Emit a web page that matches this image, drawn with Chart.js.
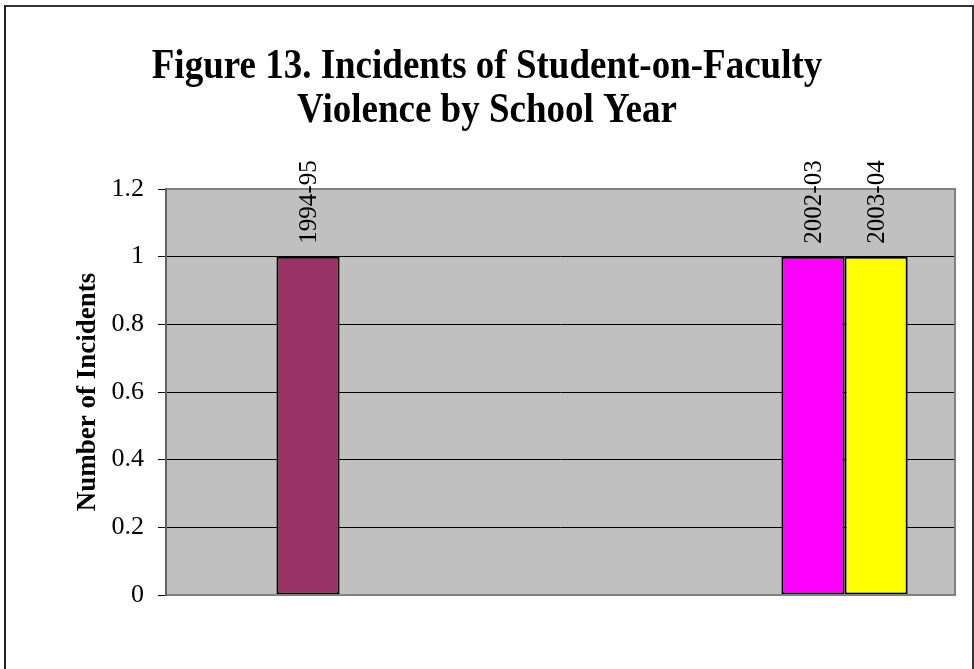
<!DOCTYPE html>
<html>
<head>
<meta charset="utf-8">
<script src="https://cdn.jsdelivr.net/npm/chart.js@4"></script>
<style>
  html, body { margin: 0; padding: 0; background: #fff; }
  #wrap { position: relative; width: 974px; height: 669px; overflow: hidden; }
  #frame { position: absolute; left: 4px; top: 5px; width: 966px; height: 700px;
           border-left: 2px solid #222; border-top: 2px solid #333; border-right: 2px solid #333; }
  canvas { position: absolute; left: 0; top: 0; }
</style>
</head>
<body>
<div id="wrap">
  <div id="frame"></div>
  <canvas id="c" width="974" height="669"></canvas>
</div>
<script>
// ---- data ----
const chartTitle = ['Figure 13. Incidents of Student-on-Faculty', 'Violence by School Year'];
const yAxisTitle = 'Number of Incidents';
const categories = [''];
const seriesNames = ['1993-94','1994-95','1995-96','1996-97','1997-98','1998-99','1999-00','2000-01','2001-02','2002-03','2003-04'];
const incidents = [null, 1, null, null, null, null, null, null, null, 1, 1];
const seriesColors = ['#9999FF','#993366','#FFFFCC','#CCFFFF','#660066','#FF8080','#0066CC','#CCCCFF','#000080','#FF00FF','#FFFF00'];
const yTicks = [0, 0.2, 0.4, 0.6, 0.8, 1, 1.2];

const SERIF = '"Liberation Serif", "Times New Roman", serif';

const datasets = seriesNames.map((name, i) => ({
  label: name,
  data: [incidents[i]],
  backgroundColor: seriesColors[i],
  borderColor: '#000',
  borderWidth: 2,
  borderSkipped: false,
  categoryPercentage: 11 / 12.5,
  barPercentage: 1.0
}));

const plotDecor = {
  id: 'plotDecor',
  beforeDraw(chart) {
    const a = chart.chartArea, ctx = chart.ctx;
    ctx.save();
    ctx.fillStyle = '#C0C0C0';
    ctx.fillRect(a.left, a.top, a.right - a.left, a.bottom - a.top);
    ctx.restore();
  },
  afterDatasetsDraw(chart) {
    const a = chart.chartArea, ctx = chart.ctx;
    ctx.save();
    ctx.strokeStyle = '#808080';
    ctx.lineWidth = 2;
    ctx.beginPath();
    ctx.moveTo(a.left, a.top); ctx.lineTo(a.right, a.top); ctx.lineTo(a.right, a.bottom); ctx.lineTo(a.left, a.bottom);
    ctx.stroke();
    ctx.strokeStyle = '#606060';
    ctx.beginPath();
    ctx.moveTo(a.left, a.top - 1); ctx.lineTo(a.left, a.bottom + 1);
    ctx.stroke();
    // data labels: series name rotated
    ctx.fillStyle = '#000';
    ctx.font = '25px ' + SERIF;
    ctx.textAlign = 'left';
    ctx.textBaseline = 'middle';
    chart.data.datasets.forEach((ds, i) => {
      const meta = chart.getDatasetMeta(i);
      meta.data.forEach((bar, j) => {
        if (ds.data[j] == null) return;
        ctx.save();
        ctx.translate(bar.x + 1, bar.y - 13);
        ctx.rotate(-Math.PI / 2);
        ctx.fillText(ds.label, 0, 0);
        ctx.restore();
      });
    });
    ctx.restore();
  }
};

const titlePlugin = {
  id: 'titleDraw',
  afterDraw(chart) {
    const ctx = chart.ctx;
    ctx.save();
    ctx.fillStyle = '#000';
    ctx.font = 'bold 37px ' + SERIF;
    ctx.textAlign = 'center';
    ctx.textBaseline = 'alphabetic';
    ctx.save();
    ctx.translate(487, 78);
    ctx.scale(1, 1.15);
    ctx.fillText(chartTitle[0], 0, 0);
    ctx.restore();
    ctx.save();
    ctx.translate(487, 122);
    ctx.scale(1, 1.15);
    ctx.fillText(chartTitle[1], 0, 0);
    ctx.restore();
    ctx.restore();
  }
};

new Chart(document.getElementById('c'), {
  type: 'bar',
  data: { labels: categories, datasets },
  options: {
    responsive: false,
    animation: false,
    devicePixelRatio: 1,
    layout: { padding: { top: 189, bottom: 74, right: 19, left: 72 } },
    plugins: { legend: { display: false }, tooltip: { enabled: false }, title: { display: false } },
    scales: {
      x: { display: false },
      y: {
        min: 0, max: 1.2,
        afterBuildTicks(scale) { scale.ticks = yTicks.map(v => ({ value: v })); },
        afterFit(scale) { scale.width = 94; },
        ticks: {
          color: '#000',
          padding: 14,
          font: { family: SERIF, size: 26 },
          callback: v => String(v)
        },
        grid: { color: '#000', lineWidth: 1, tickLength: 8, drawOnChartArea: true },
        border: { display: false },
        title: {
          display: true, text: yAxisTitle, color: '#000',
          font: { family: SERIF, size: 27, weight: 'bold' },
          padding: { top: 0, bottom: 0 }
        }
      }
    }
  },
  plugins: [plotDecor, titlePlugin]
});
</script>
</body>
</html>
